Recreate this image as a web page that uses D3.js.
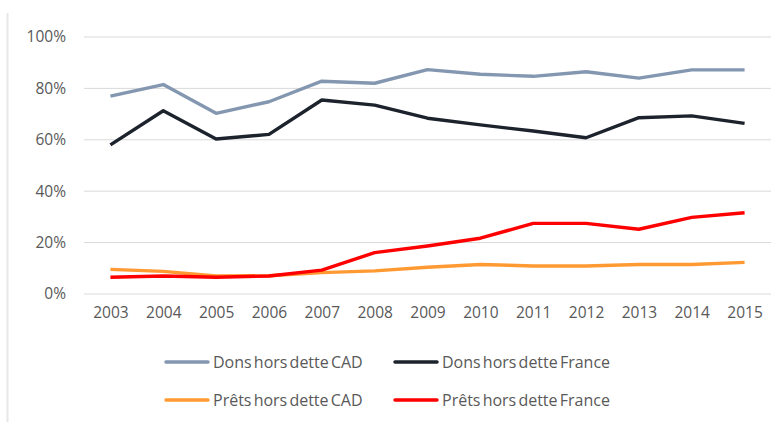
<!DOCTYPE html>
<html>
<head>
<meta charset="utf-8">
<script src="https://cdn.jsdelivr.net/npm/d3@7"></script>
<style>
  body { margin: 0; background: #fff; }
  text { font-family: "Open Sans", "Noto Sans", sans-serif; fill: #595959; }
</style>
</head>
<body>
<script>
const years = [2003, 2004, 2005, 2006, 2007, 2008, 2009, 2010, 2011, 2012, 2013, 2014, 2015];
const donsCAD = [77, 81.5, 70.3, 74.8, 82.8, 82, 87.3, 85.5, 84.7, 86.5, 84, 87.2, 87.2];
const donsFrance = [58, 71.3, 60.3, 62.1, 75.5, 73.5, 68.4, 65.8, 63.4, 60.8, 68.6, 69.3, 66.4];
const pretsCAD = [9.6, 8.8, 7, 7.1, 8.3, 9, 10.4, 11.5, 10.9, 10.9, 11.5, 11.5, 12.3];
const pretsFrance = [6.5, 7, 6.5, 7, 9.3, 16.1, 18.7, 21.7, 27.5, 27.5, 25.2, 29.8, 31.6];
const yTicks = [0, 20, 40, 60, 80, 100];

const series = [
  { name: 'Dons hors dette CAD', values: donsCAD, color: '#8497B0' },
  { name: 'Dons hors dette France', values: donsFrance, color: '#1C232D' },
  { name: 'Prêts hors dette CAD', values: pretsCAD, color: '#FF9A33' },
  { name: 'Prêts hors dette France', values: pretsFrance, color: '#FF0000' }
];

const width = 782, height = 422;
const svg = d3.select('body').append('svg')
  .attr('width', width)
  .attr('height', height);

// faint frame line on the left edge
svg.append('line')
  .attr('x1', 7.5).attr('x2', 7.5)
  .attr('y1', 13).attr('y2', 422)
  .attr('stroke', '#e8e8e8')
  .attr('stroke-width', 2);

const x = d3.scalePoint()
  .domain(years)
  .range([84, 771])
  .padding(0.5);

const y = d3.scaleLinear()
  .domain([0, 100])
  .range([294, 37]);

// gridlines
svg.append('g')
  .selectAll('line')
  .data(yTicks)
  .join('line')
  .attr('x1', 84).attr('x2', 771)
  .attr('y1', d => y(d)).attr('y2', d => y(d))
  .attr('stroke', '#d9d9d9')
  .attr('stroke-width', 1);

// y axis labels
const yAxis = svg.append('g')
  .attr('transform', 'translate(66,0)')
  .call(d3.axisLeft(y).tickValues(yTicks).tickFormat(d => d + '%').tickSize(0).tickPadding(0));
yAxis.select('.domain').remove();
yAxis.selectAll('text')
  .style('font-size', '15.5px')
  .style('fill', '#595959')
  .style('font-family', '"Open Sans", "Noto Sans", sans-serif');

// x axis labels
const xAxis = svg.append('g')
  .attr('transform', 'translate(0,307)')
  .call(d3.axisBottom(x).tickSize(0).tickPadding(0));
xAxis.select('.domain').remove();
xAxis.selectAll('text')
  .style('font-size', '15.5px')
  .style('fill', '#595959')
  .style('font-family', '"Open Sans", "Noto Sans", sans-serif');

const line = d3.line()
  .x((d, i) => x(years[i]))
  .y(d => y(d));

svg.append('g')
  .selectAll('path')
  .data(series)
  .join('path')
  .attr('d', d => line(d.values))
  .attr('fill', 'none')
  .attr('stroke', d => d.color)
  .attr('stroke-width', 3.4)
  .attr('stroke-linejoin', 'round');

// legend
const legendPos = [[166, 362], [395, 362], [166, 400], [395, 400]];
const legend = svg.append('g')
  .selectAll('g')
  .data(series)
  .join('g')
  .attr('transform', (d, i) => `translate(${legendPos[i][0]},${legendPos[i][1]})`);

legend.append('line')
  .attr('x1', 0).attr('x2', 42)
  .attr('stroke', d => d.color)
  .attr('stroke-width', 3.5)
  .attr('stroke-linecap', 'round');

legend.append('text')
  .attr('x', 47)
  .attr('dy', '0.35em')
  .style('font-size', '16px')
  .style('word-spacing', '-2px')
  .text(d => d.name);
</script>
</body>
</html>
